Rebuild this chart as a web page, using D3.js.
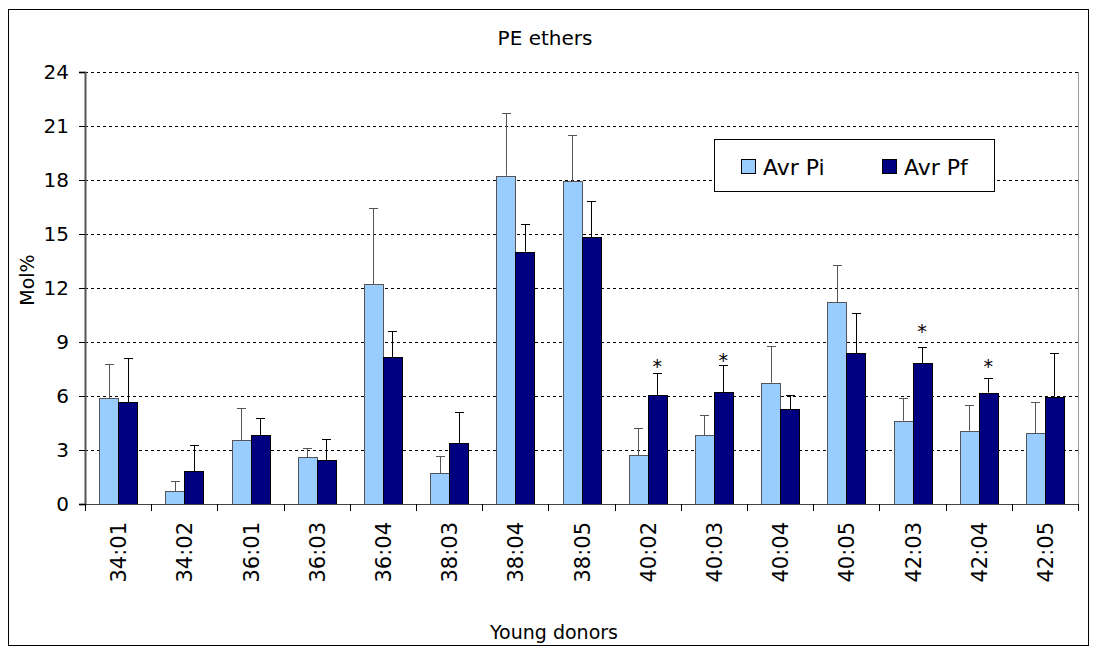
<!DOCTYPE html>
<html>
<head>
<meta charset="utf-8">
<script src="https://cdn.jsdelivr.net/npm/d3@7"></script>
<style>
  body { margin: 0; background: #fff; }
  text { font-family: "DejaVu Sans", sans-serif; fill: #000; }
</style>
</head>
<body>
<div id="container"></div>
<script>
// data
var categories = ['34:01', '34:02', '36:01', '36:03', '36:04', '38:03', '38:04', '38:05',
  '40:02', '40:03', '40:04', '40:05', '42:03', '42:04', '42:05'];
var avrPi = [5.87, 0.70, 3.54, 2.59, 12.2, 1.70, 18.24, 17.93, 2.72, 3.83, 6.74, 11.2, 4.63, 4.07, 3.93];
var avrPiErr = [1.89, 0.56, 1.78, 0.54, 4.24, 0.97, 3.46, 2.59, 1.52, 1.10, 2.04, 2.1, 1.26, 1.41, 1.72];
var avrPf = [5.65, 1.82, 3.83, 2.43, 8.15, 3.37, 14.02, 14.81, 6.04, 6.20, 5.26, 8.37, 7.83, 6.19, 5.96];
var avrPfErr = [2.48, 1.48, 0.95, 1.18, 1.48, 1.72, 1.55, 2.02, 1.26, 1.50, 0.78, 2.23, 0.87, 0.79, 2.41];
// significance stars (on Avr Pf), value = height of the star
var stars = [null, null, null, null, null, null, null, null, 7.85, 8.18, null, null, 9.79, 7.82, null];
var yTicks = [0, 3, 6, 9, 12, 15, 18, 21, 24];
var seriesNames = ['Avr Pi', 'Avr Pf'];
var colors = ['#99CCFF', '#000080'];

var W = 1097, H = 652;
var margin = { left: 85, right: 19, top: 72, bottom: 148 };
var plotW = W - margin.left - margin.right;
var plotH = H - margin.top - margin.bottom;

var svg = d3.select('#container').append('svg')
  .attr('width', W)
  .attr('height', H);

// outer chart border
svg.append('rect')
  .attr('x', 8.5).attr('y', 9.5)
  .attr('width', 1080).attr('height', 636)
  .attr('fill', 'none').attr('stroke', '#000');

var g = svg.append('g').attr('transform', `translate(${margin.left},${margin.top})`);

var x = d3.scaleBand().domain(categories).range([0, plotW]);
var y = d3.scaleLinear().domain([0, 24]).range([plotH, 0]);
var barW = x.bandwidth() / 1.75 / 2;

// gridlines
g.append('g').selectAll('line')
  .data(yTicks.filter(d => d > 0))
  .join('line')
  .attr('x1', 0).attr('x2', plotW)
  .attr('y1', d => Math.round(y(d)) + 0.5).attr('y2', d => Math.round(y(d)) + 0.5)
  .attr('stroke', '#000')
  .attr('stroke-dasharray', '3,3');

// right border of plot area
g.append('line')
  .attr('x1', plotW + 0.5).attr('x2', plotW + 0.5)
  .attr('y1', 0).attr('y2', plotH)
  .attr('stroke', '#999');

var series = [
  { name: seriesNames[0], vals: avrPi, err: avrPiErr, color: colors[0], stroke: '#555', errColor: '#555' },
  { name: seriesNames[1], vals: avrPf, err: avrPfErr, color: colors[1], stroke: '#000', errColor: '#000' }
];

series.forEach(function (s, si) {
  var xo = d => x(d) + x.bandwidth() / 2 - barW + si * barW;
  var sg = g.append('g');
  // error bars first so bars overlap stem bottoms
  sg.selectAll('line.stem')
    .data(categories)
    .join('line')
    .attr('class', 'stem')
    .attr('x1', (d) => Math.round(xo(d) + barW / 2) + 0.5)
    .attr('x2', (d) => Math.round(xo(d) + barW / 2) + 0.5)
    .attr('y1', (d, i) => y(s.vals[i]))
    .attr('y2', (d, i) => Math.round(y(s.vals[i] + s.err[i])) + 0.5)
    .attr('stroke', s.errColor);
  sg.selectAll('line.cap')
    .data(categories)
    .join('line')
    .attr('class', 'cap')
    .attr('x1', (d) => Math.round(xo(d) + barW / 2) - 4)
    .attr('x2', (d) => Math.round(xo(d) + barW / 2) + 5)
    .attr('y1', (d, i) => Math.round(y(s.vals[i] + s.err[i])) + 0.5)
    .attr('y2', (d, i) => Math.round(y(s.vals[i] + s.err[i])) + 0.5)
    .attr('stroke', s.errColor);
  sg.selectAll('rect')
    .data(categories)
    .join('rect')
    .attr('x', d => Math.round(xo(d)) + 0.5)
    .attr('y', (d, i) => Math.round(y(s.vals[i])) + 0.5)
    .attr('width', Math.round(barW))
    .attr('height', (d, i) => plotH - Math.round(y(s.vals[i])))
    .attr('fill', s.color)
    .attr('stroke', s.stroke);
});

// stars
g.append('g').selectAll('text')
  .data(categories.filter((d, i) => stars[i] != null))
  .join('text')
  .attr('x', d => x(d) + x.bandwidth() / 2 + barW / 2)
  .attr('y', d => y(stars[categories.indexOf(d)]) + 10)
  .attr('text-anchor', 'middle')
  .style('font-size', '19px')
  .text('*');

// y axis
var yAxis = g.append('g')
  .call(d3.axisLeft(y).tickValues(yTicks).tickSize(6).tickPadding(10).tickFormat(d3.format('d')));
yAxis.select('.domain').attr('stroke', '#555').attr('stroke-width', 2);
yAxis.selectAll('.tick line').attr('stroke', '#000');
yAxis.selectAll('text').style('font-size', '20px').attr('fill', '#000');

// x axis: ticks at band boundaries
var xg = g.append('g').attr('transform', `translate(0,${plotH})`);
xg.append('line')
  .attr('x1', 0).attr('x2', plotW)
  .attr('y1', 0.5).attr('y2', 0.5)
  .attr('stroke', '#444');
xg.selectAll('line.tk')
  .data(d3.range(categories.length + 1))
  .join('line')
  .attr('class', 'tk')
  .attr('x1', i => Math.round(i * x.step()) + 0.5)
  .attr('x2', i => Math.round(i * x.step()) + 0.5)
  .attr('y1', 0).attr('y2', 7)
  .attr('stroke', '#000');
xg.selectAll('text')
  .data(categories)
  .join('text')
  .attr('transform', d => `translate(${x(d) + x.bandwidth() / 2 + 8},18) rotate(-90)`)
  .attr('text-anchor', 'end')
  .style('font-size', '21px')
  .text(d => d);

// titles
svg.append('text')
  .attr('x', 545).attr('y', 45)
  .attr('text-anchor', 'middle')
  .style('font-size', '20px')
  .text('PE ethers');

svg.append('text')
  .attr('x', 554).attr('y', 639)
  .attr('text-anchor', 'middle')
  .style('font-size', '19px')
  .text('Young donors');

svg.append('text')
  .attr('transform', 'translate(34,280) rotate(-90)')
  .attr('text-anchor', 'middle')
  .style('font-size', '19px')
  .text('Mol%');

// legend
var leg = svg.append('g').attr('transform', 'translate(714,139)');
leg.append('rect')
  .attr('x', 0.5).attr('y', 0.5)
  .attr('width', 280).attr('height', 52)
  .attr('fill', '#fff').attr('stroke', '#000');
var li = leg.selectAll('g.item')
  .data(seriesNames)
  .join('g')
  .attr('class', 'item')
  .attr('transform', (d, i) => `translate(${27 + i * 141},20)`);
li.append('rect')
  .attr('x', 0.5).attr('y', 0.5)
  .attr('width', 14).attr('height', 14)
  .attr('fill', (d, i) => colors[i])
  .attr('stroke', '#000');
li.append('text')
  .attr('x', 22).attr('y', 16)
  .style('font-size', '22px')
  .text(d => d);
</script>
</body>
</html>
